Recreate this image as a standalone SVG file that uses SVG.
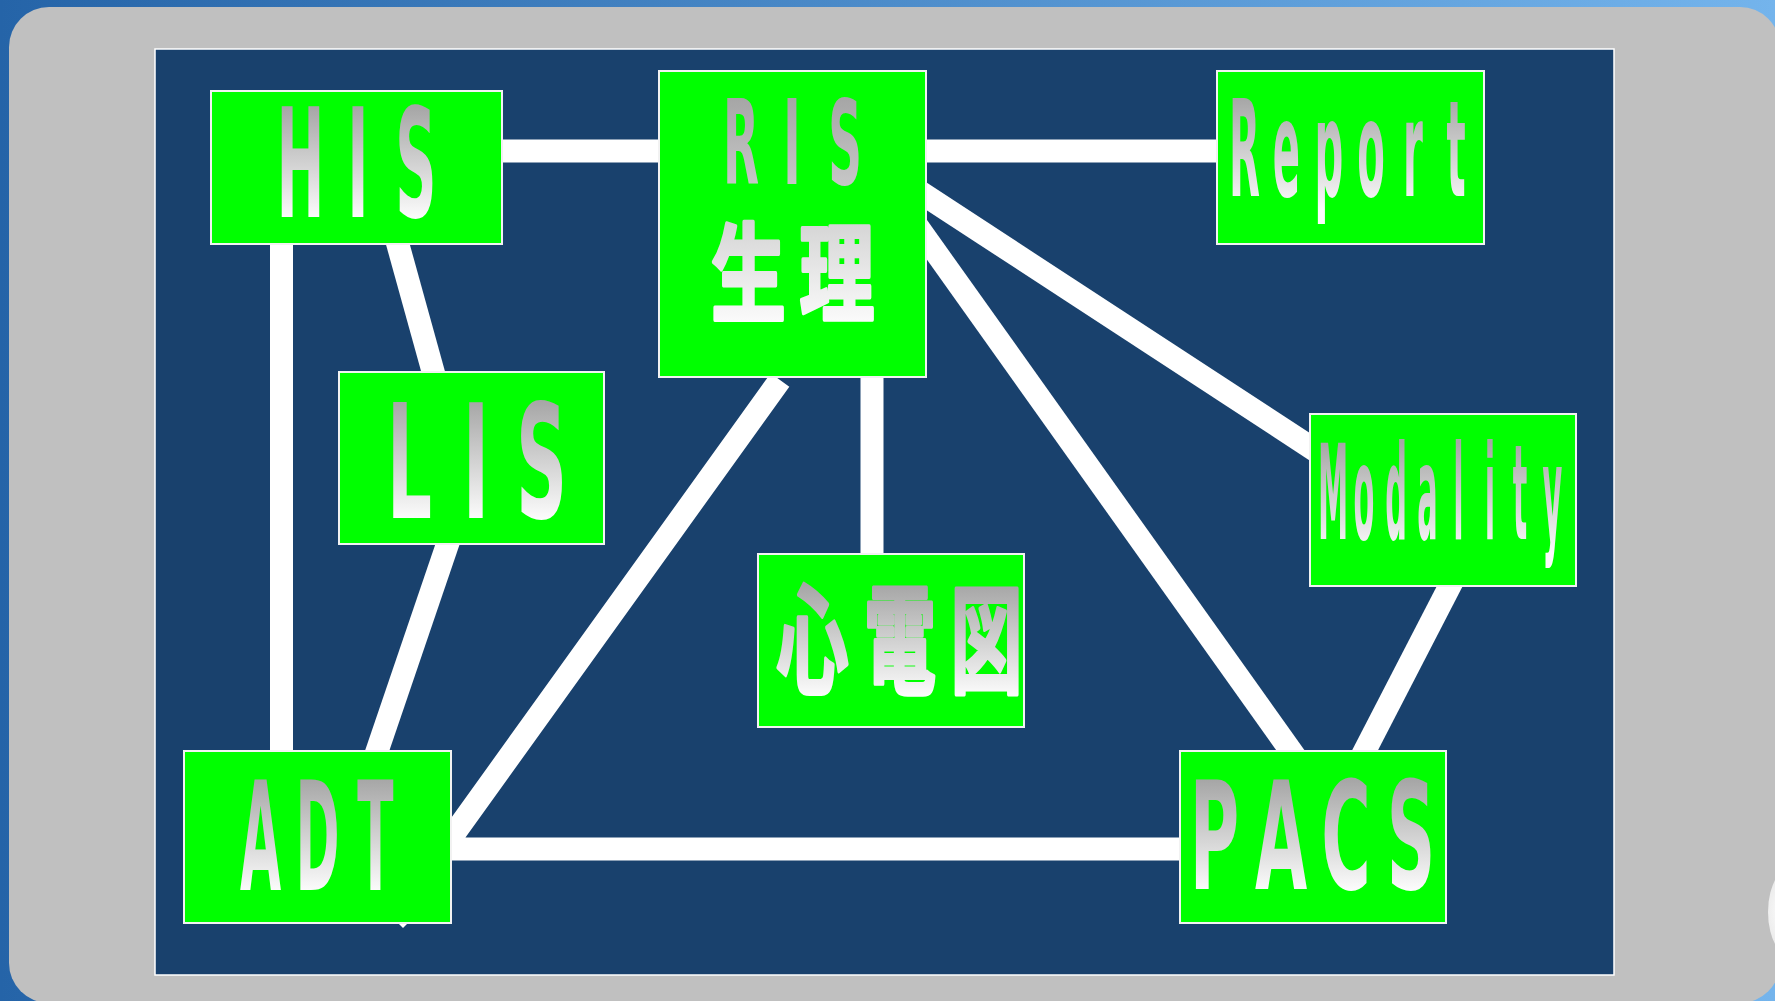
<svg xmlns="http://www.w3.org/2000/svg" xmlns:xlink="http://www.w3.org/1999/xlink" width="1775" height="1001" viewBox="0 0 1775 1001">
  <defs>
    <linearGradient id="bgGrad" x1="0" y1="0" x2="1" y2="0">
      <stop offset="0" stop-color="#2564a8"/>
      <stop offset="1" stop-color="#74b4ec"/>
    </linearGradient>
    <linearGradient id="gBase">
      <stop offset="0" stop-color="#a6a6a6"/>
      <stop offset="1" stop-color="#fbfbfb"/>
    </linearGradient>
    <linearGradient id="gHIS" xlink:href="#gBase" gradientUnits="userSpaceOnUse" x1="0" y1="107" x2="0" y2="217"/>
    <linearGradient id="gRIS" xlink:href="#gBase" gradientUnits="userSpaceOnUse" x1="0" y1="99" x2="0" y2="323"/>
    <linearGradient id="gReport" xlink:href="#gBase" gradientUnits="userSpaceOnUse" x1="0" y1="98" x2="0" y2="209"/>
    <linearGradient id="gLIS" xlink:href="#gBase" gradientUnits="userSpaceOnUse" x1="0" y1="401" x2="0" y2="518"/>
    <linearGradient id="gMod" xlink:href="#gBase" gradientUnits="userSpaceOnUse" x1="0" y1="443" x2="0" y2="553"/>
    <linearGradient id="gECG" xlink:href="#gBase" gradientUnits="userSpaceOnUse" x1="0" y1="585" x2="0" y2="695"/>
    <linearGradient id="gADT" xlink:href="#gBase" gradientUnits="userSpaceOnUse" x1="0" y1="779" x2="0" y2="890"/>
    <linearGradient id="gPACS" xlink:href="#gBase" gradientUnits="userSpaceOnUse" x1="0" y1="780" x2="0" y2="889"/>
    <radialGradient id="gBlob" cx="0.3" cy="0.5" r="0.7">
      <stop offset="0" stop-color="#ffffff"/>
      <stop offset="1" stop-color="#d8d8d8"/>
    </radialGradient>
    <style>
      .box { fill: #00ff00; stroke: #f2f2f2; stroke-width: 2; }
      .lat { font-family: "DejaVu Sans", "Liberation Sans", sans-serif; font-weight: bold; text-anchor: middle; }
      .cjk { font-family: "DejaVu Sans", "Noto Sans CJK JP", "Noto Sans CJK SC", sans-serif; font-weight: bold; text-anchor: middle; stroke-width: 4; stroke-linejoin: round; }
      .conn { fill: none; stroke: #ffffff; stroke-width: 23; stroke-linecap: butt; stroke-linejoin: miter; }
    </style>
  </defs>

  <!-- background -->
  <rect x="0" y="0" width="1775" height="1001" fill="url(#bgGrad)"/>
  <rect x="9" y="7" width="1771" height="996" rx="40" ry="40" fill="#c0c0c0"/>
  <ellipse cx="1798" cy="912" rx="30" ry="50" fill="url(#gBlob)"/>
  <rect x="155" y="49" width="1459" height="926" fill="#19416d" stroke="#ffffff" stroke-width="1.5"/>

  <!-- connectors -->
  <g id="connectors">
    <line class="conn" x1="498" y1="151" x2="663" y2="151"/>
    <line class="conn" x1="922" y1="151" x2="1221" y2="151"/>
    <line class="conn" x1="281.5" y1="240" x2="281.5" y2="755"/>
    <line class="conn" x1="395" y1="234" x2="436" y2="382"/>
    <line class="conn" x1="451" y1="534" x2="374" y2="760"/>
    <polyline class="conn" points="780,380 443,849 1184,849"/>
    <line class="conn" x1="872" y1="373" x2="872" y2="558"/>
    <line class="conn" x1="900" y1="179" x2="1330" y2="460"/>
    <line class="conn" x1="898.6" y1="200" x2="1311.6" y2="780"/>
    <line class="conn" x1="1455" y1="576" x2="1360" y2="760"/>
    <polygon points="398,923 408,923 403,928" fill="#ffffff"/>
  </g>

  <!-- nodes -->
  <g id="node-his">
    <rect class="box" x="211" y="91" width="291" height="153"/>
    <text class="lat" transform="scale(0.38,1)" x="790.8 942.1 1094.7" y="217" font-size="151" fill="url(#gHIS)">HIS</text>
  </g>
  <g id="node-ris">
    <rect class="box" x="659" y="71" width="267" height="306"/>
    <text class="lat" transform="scale(0.4,1)" x="1852.5 1980 2112.5" y="184" font-size="117" fill="url(#gRIS)">RIS</text>
    <text class="cjk" transform="scale(0.7,1)" x="1069.3 1195.7" y="313" font-size="107" fill="url(#gRIS)" stroke="url(#gRIS)">生理</text>
  </g>
  <g id="node-report">
    <rect class="box" x="1217" y="71" width="267" height="173"/>
    <text class="lat" transform="scale(0.3,1)" x="4148.3 4288.3 4430 4570 4710 4853.3" y="196" font-size="134" fill="url(#gReport)">Report</text>
  </g>
  <g id="node-lis">
    <rect class="box" x="339" y="372" width="265" height="172"/>
    <text class="lat" transform="scale(0.45,1)" x="910 1057.8 1203.3" y="518" font-size="158" fill="url(#gLIS)">LIS</text>
  </g>
  <g id="node-modality">
    <rect class="box" x="1310" y="414" width="266" height="172"/>
    <text class="lat" transform="scale(0.23,1)" x="5795.7 5930.4 6069.6 6206.5 6341.3 6478.3 6608.7 6750" y="539" font-size="132" fill="url(#gMod)">Modality</text>
  </g>
  <g id="node-ecg">
    <rect class="box" x="758" y="554" width="266" height="173"/>
    <text class="cjk" transform="scale(0.61,1)" x="1332 1475.4 1617.2" y="684" font-size="118" fill="url(#gECG)" stroke="url(#gECG)">心電図</text>
  </g>
  <g id="node-adt">
    <rect class="box" x="184" y="751" width="267" height="172"/>
    <text class="lat" transform="scale(0.35,1)" x="744.3 907.1 1072.9" y="890" font-size="152" fill="url(#gADT)">ADT</text>
  </g>
  <g id="node-pacs">
    <rect class="box" x="1180" y="751" width="266" height="172"/>
    <text class="lat" transform="scale(0.45,1)" x="2698.9 2846.7 2991.1 3135.6" y="889" font-size="150" fill="url(#gPACS)">PACS</text>
  </g>
</svg>
